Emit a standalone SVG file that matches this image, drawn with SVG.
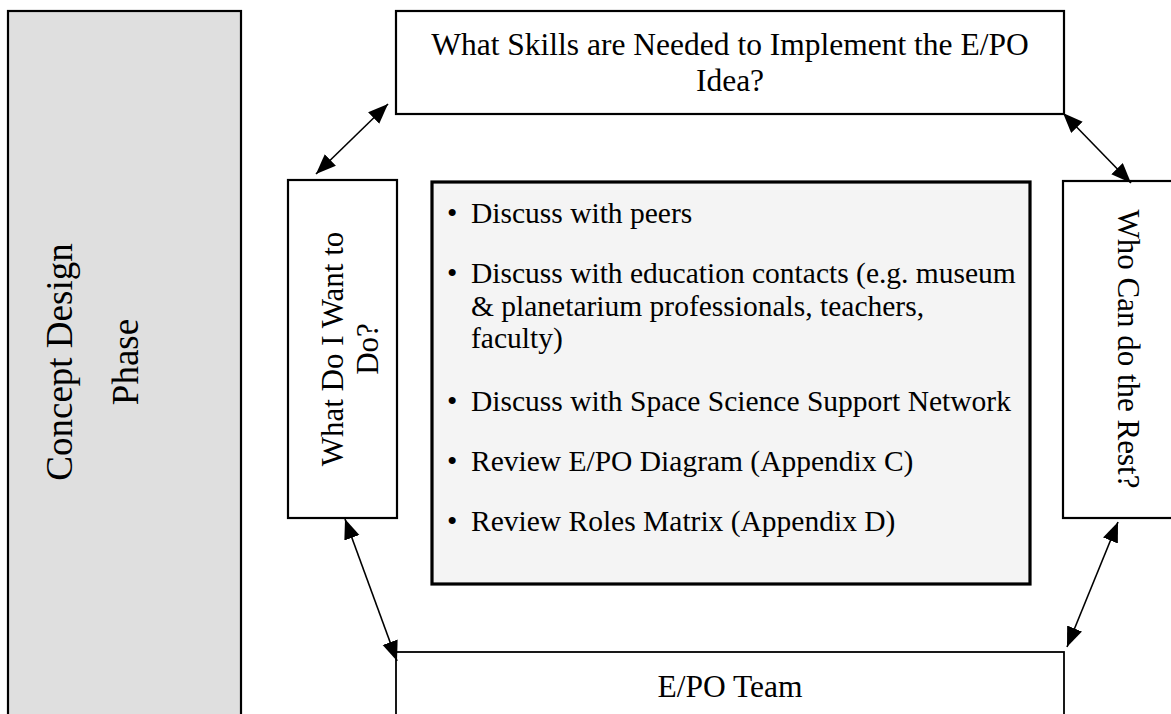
<svg xmlns="http://www.w3.org/2000/svg" width="1171" height="714" viewBox="0 0 1171 714">
<style>
.box{fill:#fff;stroke:#000;stroke-width:2.2}
.t{font-family:"Liberation Serif","Times New Roman",serif;fill:#000}
.conn{stroke:#000;stroke-width:1.6;fill:none;marker-start:url(#ah);marker-end:url(#ah)}
</style>
<defs>
<marker id="ah" markerUnits="userSpaceOnUse" markerWidth="22" markerHeight="18" refX="20" refY="8" orient="auto-start-reverse">
<path d="M0,0 L20,8 L0,16 z" fill="#000"/>
</marker>
</defs>
<rect width="1171" height="714" fill="#fff"/>
<g id="phase">
<rect x="8" y="11" width="233" height="720" fill="#dfdfdf" stroke="#000" stroke-width="2.2"/>
<text class="t" font-size="37" text-anchor="middle" transform="translate(72,362) rotate(-90)">Concept Design</text>
<text class="t" font-size="37" text-anchor="middle" transform="translate(138,362) rotate(-90)">Phase</text>
</g>
<g id="skills">
<rect class="box" x="396" y="11" width="668" height="103"/>
<text class="t" font-size="31.5" text-anchor="middle" x="730" y="55">What Skills are Needed to Implement the E/PO</text>
<text class="t" font-size="31.5" text-anchor="middle" x="730" y="91">Idea?</text>
</g>
<g id="want">
<rect class="box" x="288" y="180" width="109" height="338"/>
<text class="t" font-size="31" text-anchor="middle" transform="translate(343,349) rotate(-90)">What Do I Want to</text>
<text class="t" font-size="31" text-anchor="middle" transform="translate(378,349) rotate(-90)">Do?</text>
</g>
<g id="who">
<rect class="box" x="1063" y="181" width="120" height="337"/>
<text class="t" font-size="31" text-anchor="middle" transform="translate(1118,349) rotate(90)">Who Can do the Rest?</text>
</g>
<g id="actions">
<rect x="432" y="182" width="598" height="402" fill="#f4f4f4" stroke="#000" stroke-width="3.2"/>
<g class="t" font-size="29.5">
<text x="447" y="223">•</text><text x="471" y="223">Discuss with peers</text>
<text x="447" y="283">•</text><text x="471" y="283">Discuss with education contacts (e.g. museum</text>
<text x="471" y="316">&amp; planetarium professionals, teachers,</text>
<text x="471" y="348">faculty)</text>
<text x="447" y="411">•</text><text x="471" y="411">Discuss with Space Science Support Network</text>
<text x="447" y="471">•</text><text x="471" y="471">Review E/PO Diagram (Appendix C)</text>
<text x="447" y="531">•</text><text x="471" y="531">Review Roles Matrix (Appendix D)</text>
</g>
</g>
<g id="team">
<rect x="396" y="652" width="668" height="80" fill="#fff" stroke="#000" stroke-width="1.8"/>
<text class="t" font-size="31.5" text-anchor="middle" x="730" y="697">E/PO Team</text>
</g>
<g id="connectors">
<line class="conn" x1="316" y1="174" x2="388" y2="104"/>
<line class="conn" x1="1063" y1="113" x2="1131" y2="183"/>
<line class="conn" x1="345" y1="519" x2="397" y2="661"/>
<line class="conn" x1="1118" y1="522" x2="1067" y2="647"/>
</g>
</svg>
